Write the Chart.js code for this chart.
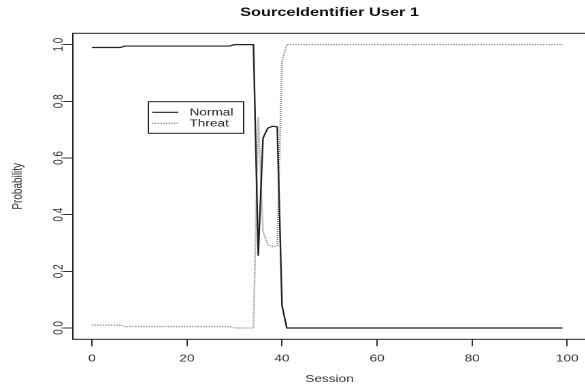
<!DOCTYPE html>
<html>
<head>
<meta charset="utf-8">
<script src="https://cdn.jsdelivr.net/npm/chart.js@4/dist/chart.umd.min.js"></script>
<style>
  html, body { margin: 0; padding: 0; background: #fff; overflow: hidden; }
</style>
</head>
<body>
<!-- the reference is stretched sideways, so the canvas is drawn narrow and scaled out -->
<canvas id="chart" width="432" height="387" style="display:block;width:587.5px;height:387px"></canvas>
<script>
const chartTitle = "SourceIdentifier User 1";
const seriesNames = ["Normal", "Threat"];

const sessions = [
   0,  1,  2,  3,  4,  5,  6,  7,  8,  9,
  10, 11, 12, 13, 14, 15, 16, 17, 18, 19,
  20, 21, 22, 23, 24, 25, 26, 27, 28, 29,
  30, 31, 32, 33, 34, 35, 36, 37, 38, 39,
  40, 41, 42, 43, 44, 45, 46, 47, 48, 49,
  50, 51, 52, 53, 54, 55, 56, 57, 58, 59,
  60, 61, 62, 63, 64, 65, 66, 67, 68, 69,
  70, 71, 72, 73, 74, 75, 76, 77, 78, 79,
  80, 81, 82, 83, 84, 85, 86, 87, 88, 89,
  90, 91, 92, 93, 94, 95, 96, 97, 98, 99
];

const normal = [
  0.99, 0.99, 0.99, 0.99, 0.99, 0.99, 0.99, 0.995, 0.995, 0.995,
  0.995, 0.995, 0.995, 0.995, 0.995, 0.995, 0.995, 0.995, 0.995, 0.995,
  0.995, 0.995, 0.995, 0.995, 0.995, 0.995, 0.995, 0.995, 0.995, 0.995,
  1.0, 1.0, 1.0, 1.0, 1.0, 0.255, 0.67, 0.705, 0.712, 0.71,
  0.08, 0, 0, 0, 0, 0, 0, 0, 0, 0,
  0, 0, 0, 0, 0, 0, 0, 0, 0, 0,
  0, 0, 0, 0, 0, 0, 0, 0, 0, 0,
  0, 0, 0, 0, 0, 0, 0, 0, 0, 0,
  0, 0, 0, 0, 0, 0, 0, 0, 0, 0,
  0, 0, 0, 0, 0, 0, 0, 0, 0, 0
];

const threat = [
  0.01, 0.01, 0.01, 0.01, 0.01, 0.01, 0.01, 0.005, 0.005, 0.005,
  0.005, 0.005, 0.005, 0.005, 0.005, 0.005, 0.005, 0.005, 0.005, 0.005,
  0.005, 0.005, 0.005, 0.005, 0.005, 0.005, 0.005, 0.005, 0.005, 0.005,
  0, 0, 0, 0, 0, 0.745, 0.34, 0.295, 0.287, 0.29,
  0.94, 1, 1, 1, 1, 1, 1, 1, 1, 1,
  1, 1, 1, 1, 1, 1, 1, 1, 1, 1,
  1, 1, 1, 1, 1, 1, 1, 1, 1, 1,
  1, 1, 1, 1, 1, 1, 1, 1, 1, 1,
  1, 1, 1, 1, 1, 1, 1, 1, 1, 1,
  1, 1, 1, 1, 1, 1, 1, 1, 1, 1
];

const xTicks = [0, 20, 40, 60, 80, 100];
const yTicks = [0, 0.2, 0.4, 0.6, 0.8, 1.0];
const yTickLabels = ["0.0", "0.2", "0.4", "0.6", "0.8", "1.0"];

const FONT = "'Liberation Sans', Arial, Helvetica, sans-serif";
Chart.defaults.font.family = FONT;
Chart.defaults.color = "#333";

// box round the plot, the title above it and the little legend box inside
const decorPlugin = {
  id: "decor",
  afterDraw(chart) {
    const { ctx, chartArea: a } = chart;
    ctx.save();
    ctx.strokeStyle = "#222";
    ctx.lineWidth = 1;
    ctx.setLineDash([]);
    ctx.strokeRect(a.left, a.top, a.right - a.left, a.bottom - a.top);

    ctx.fillStyle = "#111";
    ctx.font = "bold 12px " + FONT;
    ctx.textAlign = "center";
    ctx.textBaseline = "middle";
    ctx.fillText(chartTitle, (a.left + a.right) / 2, 12.5);

    const box = { x: 109, y: 101.7, w: 70, h: 31.6 };
    ctx.strokeStyle = "#222";
    ctx.strokeRect(box.x, box.y, box.w, box.h);
    ctx.font = "10px " + FONT;
    ctx.textAlign = "left";
    chart.data.datasets.forEach((ds, i) => {
      const y = 112.3 + i * 11;
      ctx.strokeStyle = ds.borderColor;
      ctx.lineWidth = ds.borderWidth;
      ctx.setLineDash(ds.borderDash || []);
      ctx.beginPath();
      ctx.moveTo(111.8, y);
      ctx.lineTo(131, y);
      ctx.stroke();
      ctx.fillStyle = "#222";
      ctx.fillText(ds.label, 139.2, y + 0.5);
    });
    ctx.restore();
  }
};

new Chart(document.getElementById("chart"), {
  type: "line",
  data: {
    labels: sessions,
    datasets: [
      {
        label: seriesNames[0],
        data: normal,
        borderColor: "#222",
        borderWidth: 1.2,
        pointRadius: 0,
        tension: 0,
        fill: false
      },
      {
        label: seriesNames[1],
        data: threat,
        borderColor: "#8c8c8c",
        borderWidth: 1.3,
        borderDash: [1, 1],
        pointRadius: 0,
        tension: 0,
        fill: false
      }
    ]
  },
  options: {
    responsive: false,
    animation: false,
    devicePixelRatio: 2,
    layout: { padding: { top: 33.3, right: 1.3, bottom: 0, left: 0 } },
    plugins: {
      legend: { display: false },
      title: { display: false },
      tooltip: { enabled: false }
    },
    scales: {
      x: {
        type: "linear",
        min: -4,
        max: 104,
        afterBuildTicks: s => { s.ticks = xTicks.map(v => ({ value: v })); },
        afterFit: s => { s.height = 47.7; },
        border: { display: false },
        grid: { drawOnChartArea: false, drawTicks: true, tickLength: 7, color: "#333" },
        ticks: { padding: 6.5, maxRotation: 0, autoSkip: false, color: "#333", font: { size: 10 } },
        title: { display: true, text: "Session", color: "#333", font: { size: 10 }, padding: { top: 0, bottom: 2 } }
      },
      y: {
        type: "linear",
        min: -0.04,
        max: 1.04,
        afterBuildTicks: s => { s.ticks = yTicks.map(v => ({ value: v })); },
        afterFit: s => { s.width = 53.5; },
        border: { display: false },
        grid: { drawOnChartArea: false, drawTicks: true, tickLength: 7, color: "#333" },
        ticks: {
          minRotation: 90,
          maxRotation: 90,
          crossAlign: "center",
          padding: -3.8,
          autoSkip: false,
          color: "#333",
          font: { size: 10 },
          callback: v => yTickLabels[yTicks.indexOf(v)]
        },
        title: { display: true, text: "Probability", color: "#333", font: { size: 10 }, padding: { top: 7.2, bottom: 0 } }
      }
    }
  },
  plugins: [decorPlugin]
});
</script>
</body>
</html>
